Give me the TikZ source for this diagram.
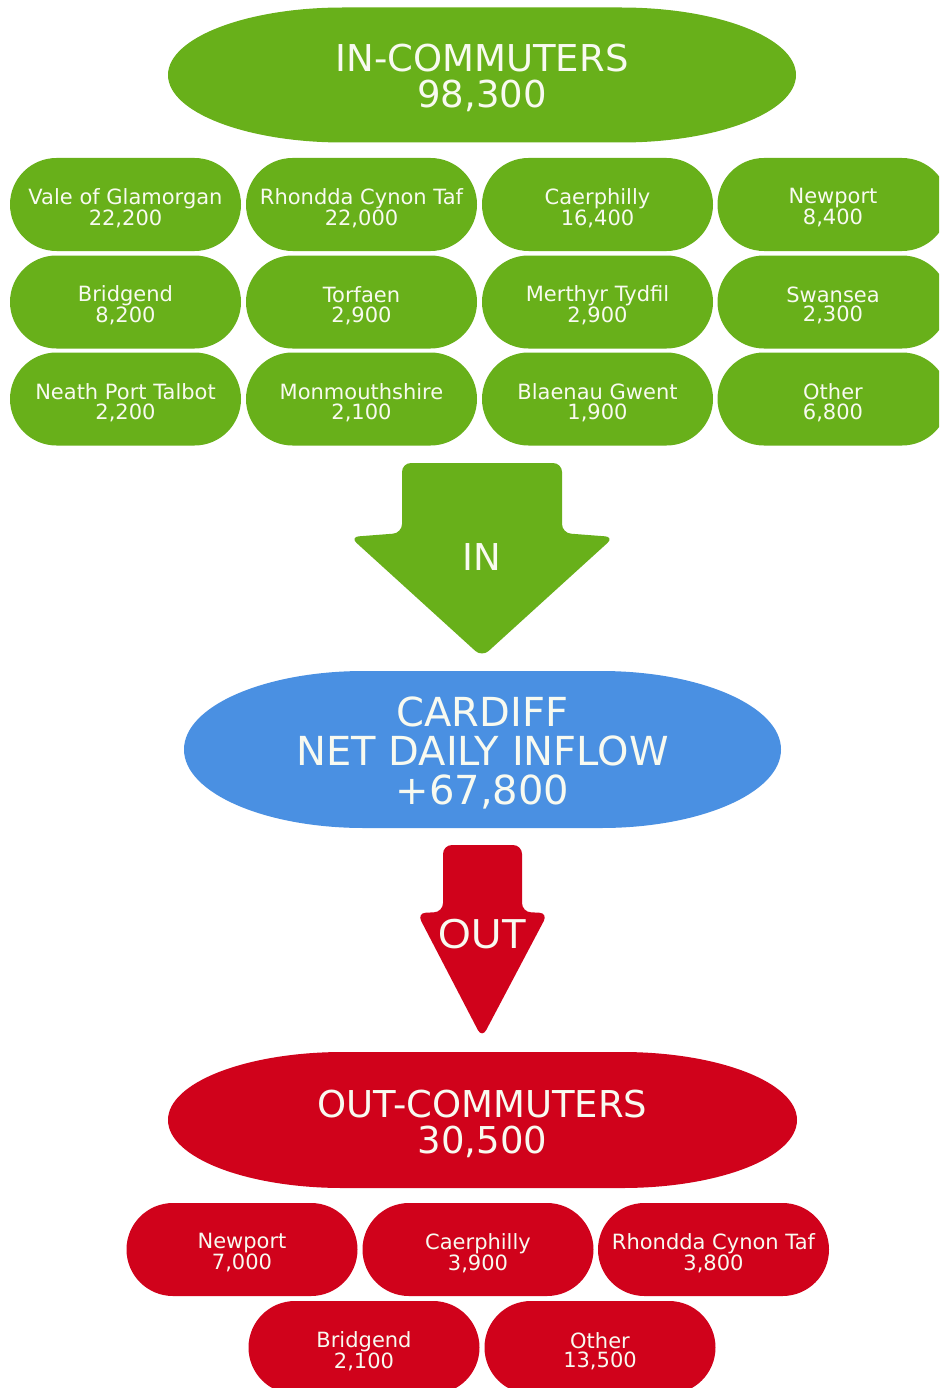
\documentclass[tikz,border=0pt]{standalone}
\usepackage{fontspec}
\setmainfont{DejaVu Sans}
\newfontfamily\arialfont{Liberation Sans}
\usetikzlibrary{shapes.misc}
\definecolor{ggreen}{RGB}{104,176,26}
\definecolor{cblue}{RGB}{74,144,226}
\definecolor{rred}{RGB}{208,2,27}
\definecolor{txt}{RGB}{248,250,240}
\tikzset{
  pill/.style={rounded rectangle, minimum width=231pt, minimum height=93pt, inner sep=0pt},
  gpill/.style={pill, fill=ggreen},
  rpill/.style={pill, fill=rred},
  pilltext/.style={text=txt, align=center, inner sep=0pt, font=\fontsize{21}{19.5}\selectfont},
  bigtext/.style={text=txt, align=center, inner sep=0pt},
  arrowshape/.style={rounded corners=9pt},
}
\newcommand\mkpill[5]{%
  \node[#4] (#1) at (#2,#3) {};
  \node[pilltext] (#1-t) at ([yshift=-3.5pt]#1.center) {#5};}
\begin{document}
\begin{tikzpicture}[x=1pt,y=-1pt]
\useasboundingbox (0,0) rectangle (939,1388);
\clip (0,0) rectangle (939,1388);
\fill[white] (0,0) rectangle (939,1388);

% top shape
\fill[ggreen] (343,7.5) -- (621,7.5) arc[start angle=-90, end angle=90, x radius=175, y radius=67.5]
  -- (343,142.5) arc[start angle=90, end angle=270, x radius=175, y radius=67.5] -- cycle;
\node[bigtext, font=\fontsize{37}{36}\selectfont] (incomm) at (482,78) {IN-COMMUTERS\\98,300};

% green grid
\mkpill{g11}{125.5}{204.5}{gpill}{Vale of Glamorgan\\22,200}
\mkpill{g12}{361.5}{204.5}{gpill}{Rhondda Cynon Taf\\22,000}
\mkpill{g13}{597.5}{204.5}{gpill}{Caerphilly\\16,400}
\mkpill{g14}{833}{204.5}{gpill}{Newport\\8,400}
\mkpill{g21}{125.5}{302}{gpill}{Bridgend\\8,200}
\mkpill{g22}{361.5}{302}{gpill}{Torfaen\\2,900}
\mkpill{g23}{597.5}{302}{gpill}{Merthyr Tydfil\\2,900}
\mkpill{g24}{833}{302}{gpill}{Swansea\\2,300}
\mkpill{g31}{125.5}{399}{gpill}{Neath Port Talbot\\2,200}
\mkpill{g32}{361.5}{399}{gpill}{Monmouthshire\\2,100}
\mkpill{g33}{597.5}{399}{gpill}{Blaenau Gwent\\1,900}
\mkpill{g34}{833}{399}{gpill}{Other\\6,800}

% IN arrow
\fill[ggreen, arrowshape] (402,463) -- (562,463) -- (562,533) -- (614,537)
  -- (482,657) -- (350,537) -- (402,533) -- cycle;
\node[text=txt, font=\fontsize{37}{37}\selectfont] (inlbl) at (482,557) {IN};

% Cardiff
\fill[cblue] (364,671) -- (601,671) arc[start angle=-90, end angle=90, x radius=180, y radius=78.5]
  -- (364,828) arc[start angle=90, end angle=270, x radius=180, y radius=78.5] -- cycle;
\node[bigtext, font=\fontsize{40}{39}\selectfont] (cardiff) at (482.5,753) {CARDIFF\\NET DAILY INFLOW\\+67,800};

% OUT arrow
\fill[rred, arrowshape] (443,845) -- (522,845) -- (522,912) -- (548,913)
  -- (482,1038) -- (417,913) -- (443,912) -- cycle;
\node[text=txt, font=\arialfont\fontsize{42}{42}\selectfont] (outlbl) at (483,934) {OUT};

% out-commuters shape
\fill[rred] (343,1052) -- (622,1052) arc[start angle=-90, end angle=90, x radius=175, y radius=68]
  -- (343,1188) arc[start angle=90, end angle=270, x radius=175, y radius=68] -- cycle;
\node[bigtext, font=\fontsize{37}{36}\selectfont] (outcomm) at (482.5,1124) {OUT-COMMUTERS\\30,500};

% red pills
\mkpill{r11}{242}{1249.5}{rpill}{Newport\\7,000}
\mkpill{r12}{478}{1249.5}{rpill}{Caerphilly\\3,900}
\mkpill{r13}{713.5}{1249.5}{rpill}{Rhondda Cynon Taf\\3,800}
\mkpill{r21}{364}{1347.5}{rpill}{Bridgend\\2,100}
\mkpill{r22}{600}{1347.5}{rpill}{Other\\13,500}
\end{tikzpicture}
\end{document}
